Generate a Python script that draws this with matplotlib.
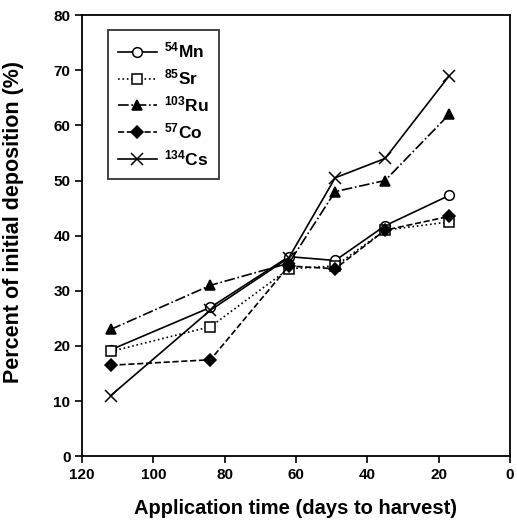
import numpy as np
from matplotlib import pyplot as plt

plt.rcParams['font.family'] = ['Liberation Sans', 'DejaVu Sans']
plt.rcParams['font.weight'] = 'bold'
plt.rcParams['mathtext.default'] = 'regular'

days = [112, 84, 62, 49, 35, 17]
mn = [19.3, 27.0, 36.2, 35.5, 41.8, 47.3]
sr = [19.0, 23.5, 34.0, 34.5, 41.0, 42.5]
ru = [23.0, 31.0, 35.0, 48.0, 50.0, 62.0]
co = [16.5, 17.5, 34.5, 34.0, 41.0, 43.5]
cs = [11.0, 26.5, 36.0, 50.5, 54.0, 69.0]

series = [
    (mn, '$^{54}$Mn', '-', 'o', 'white'),
    (sr, '$^{85}$Sr', ':', 's', 'white'),
    (ru, '$^{103}$Ru', '-.', '^', 'black'),
    (co, '$^{57}$Co', '--', 'D', 'black'),
    (cs, '$^{134}$Cs', '-', 'x', 'black'),
]

fig = plt.figure(figsize=(5.17, 5.22), dpi=100)
ax = fig.add_axes([0.159, 0.126, 0.827, 0.845])

for vals, lab, ls, mk, fc in series:
    ms = 7 if mk != 'x' else 9
    if mk == 'D':
        ms = 6
    ax.plot(days, vals, color='black', linestyle=ls, marker=mk, markersize=ms,
            markerfacecolor=fc, markeredgecolor='black', linewidth=1.2,
            markeredgewidth=1.1, label=lab)

ax.set_xlim(120, 0)
ax.set_ylim(0, 80)
ax.set_xticks(np.arange(120, -1, -20))
ax.set_yticks(np.arange(0, 81, 10))
ax.tick_params(direction='out', length=5, width=1.2, labelsize=11)
for s in ax.spines.values():
    s.set_linewidth(1.3)

ax.set_xlabel('Application time (days to harvest)', fontsize=14.5, fontweight='bold', labelpad=12)
ax.set_ylabel('Percent of initial deposition (%)', fontsize=15.5, fontweight='bold')
ax.yaxis.set_label_coords(-0.137, 0.53)

leg = ax.legend(loc='upper left', bbox_to_anchor=(0.04, 0.985), fontsize=12.5, frameon=True,
                fancybox=False, edgecolor='black', handlelength=2.2, labelspacing=0.4,
                borderpad=0.6, handletextpad=0.4)
leg.get_frame().set_linewidth(1.3)

fig.savefig('out.png', dpi=100)
